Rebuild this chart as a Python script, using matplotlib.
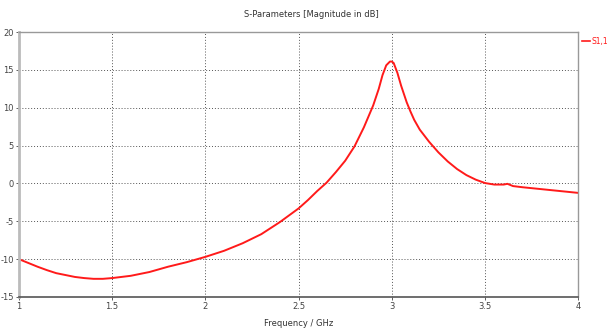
import matplotlib
matplotlib.use("Agg")
import matplotlib.pyplot as plt

# S11 magnitude
freq_ghz = [1.00, 1.05, 1.10, 1.15, 1.20, 1.25, 1.30, 1.35, 1.40, 1.45, 1.50,
            1.60, 1.70, 1.80, 1.90, 2.00, 2.10, 2.20, 2.30, 2.40, 2.50, 2.55,
            2.60, 2.65, 2.70, 2.75, 2.80, 2.85, 2.90, 2.93, 2.95, 2.97, 2.99,
            3.00, 3.01, 3.03, 3.05, 3.08, 3.10, 3.12, 3.15, 3.20, 3.25, 3.30,
            3.35, 3.40, 3.45, 3.50, 3.55, 3.60, 3.62, 3.65, 3.70, 3.80, 3.90,
            4.00]
s11_db = [-10.0, -10.5, -11.0, -11.45, -11.85, -12.1, -12.35, -12.5, -12.6, -12.6, -12.5,
          -12.2, -11.7, -11.0, -10.4, -9.7, -8.9, -7.9, -6.7, -5.1, -3.3, -2.2,
          -1.0, 0.1, 1.5, 3.0, 4.9, 7.4, 10.3, 12.5, 14.3, 15.6, 16.1,
          16.1, 15.9, 14.6, 12.9, 10.7, 9.5, 8.4, 7.1, 5.5, 4.1, 2.9,
          1.9, 1.1, 0.5, 0.05, -0.15, -0.15, -0.05, -0.35, -0.5, -0.75, -1.0,
          -1.25]

x_ticks = [1, 1.5, 2, 2.5, 3, 3.5, 4]
x_labels = ["1", "1.5", "2", "2.5", "3", "3.5", "4"]
y_ticks = [-15, -10, -5, 0, 5, 10, 15, 20]

plt.rcParams['font.family'] = ['Liberation Sans Narrow', 'DejaVu Sans']
plt.rcParams['axes.unicode_minus'] = False

fig = plt.figure(figsize=(6.1, 3.3), dpi=100)
ax = fig.add_axes([0.031, 0.1, 0.917, 0.803])

ax.plot(freq_ghz, s11_db, color='#ff1a1a', linewidth=1.4)

ax.set_xlim(1, 4)
ax.set_ylim(-15, 20)
ax.set_xticks(x_ticks)
ax.set_xticklabels(x_labels)
ax.set_yticks(y_ticks)
ax.tick_params(labelsize=6, colors='#444444', length=2, width=0.6, pad=1.5)
ax.grid(True, linestyle=(0, (1, 2)), color='#555555', linewidth=0.7)

for side in ['top', 'right']:
    ax.spines[side].set_color('#999999')
    ax.spines[side].set_linewidth(1.0)
ax.spines['left'].set_color('#bbbbbb')
ax.spines['left'].set_linewidth(2.0)
ax.spines['bottom'].set_color('#555555')
ax.spines['bottom'].set_linewidth(1.2)

fig.text(0.51, 0.955, "S-Parameters [Magnitude in dB]", ha='center', va='center',
         fontsize=6, color='#333333')
fig.text(0.49, 0.02, "Frequency / GHz", ha='center', va='center',
         fontsize=6, color='#333333')

# legend entry at the top right, outside the axes
fig.add_artist(plt.Line2D([0.954, 0.968], [0.875, 0.875], color='#ff1a1a',
                          linewidth=1.2, transform=fig.transFigure))
fig.text(0.970, 0.875, "S1,1", ha='left', va='center', fontsize=5.5, color='#ff1a1a')

plt.savefig("out.png", dpi=100)
